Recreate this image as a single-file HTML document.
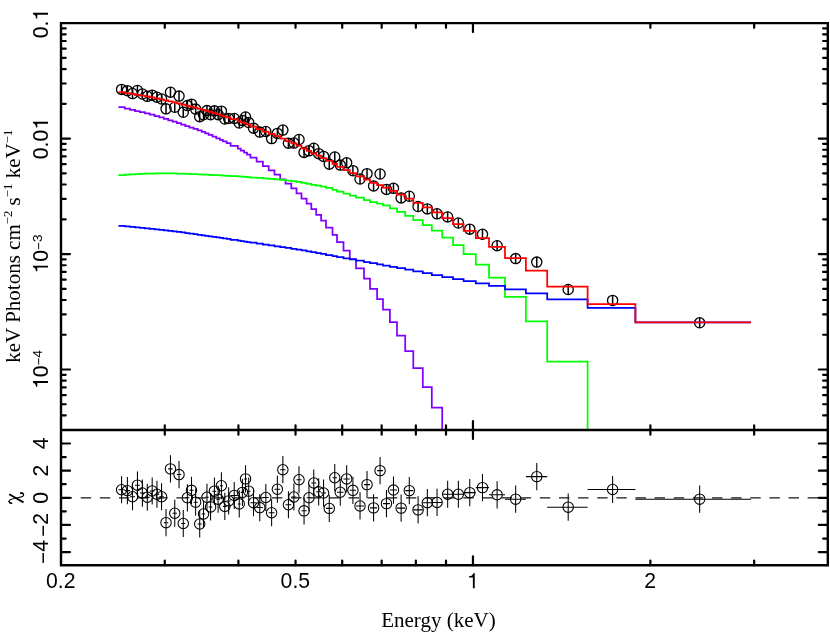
<!DOCTYPE html>
<html><head><meta charset="utf-8"><title>spectrum</title>
<style>html,body{margin:0;padding:0;background:#fff}svg{display:block;will-change:transform}text{fill:#000}</style>
</head><body>
<svg width="830" height="632" viewBox="0 0 830 632">
<rect width="830" height="632" fill="#fff"/>
<g fill="none" stroke="#000" stroke-width="1.3">
<circle cx="121.59" cy="89.4" r="5.1"/>
<circle cx="127.39" cy="90.65" r="5.1"/>
<circle cx="132.51" cy="93.56" r="5.1"/>
<circle cx="137.46" cy="90.49" r="5.1"/>
<circle cx="142.36" cy="94.05" r="5.1"/>
<circle cx="147.29" cy="96.31" r="5.1"/>
<circle cx="152.19" cy="95.15" r="5.1"/>
<circle cx="156.96" cy="97.2" r="5.1"/>
<circle cx="161.56" cy="99" r="5.1"/>
<circle cx="166.03" cy="108.86" r="5.1"/>
<circle cx="170.46" cy="92.2" r="5.1"/>
<circle cx="174.76" cy="107.23" r="5.1"/>
<circle cx="179.03" cy="96.12" r="5.1"/>
<circle cx="183.26" cy="112.28" r="5.1"/>
<circle cx="187.36" cy="105.6" r="5.1"/>
<circle cx="191.51" cy="104.17" r="5.1"/>
<circle cx="195.63" cy="109.11" r="5.1"/>
<circle cx="199.71" cy="116.63" r="5.1"/>
<circle cx="203.51" cy="114.77" r="5.1"/>
<circle cx="206.96" cy="110.59" r="5.1"/>
<circle cx="210.58" cy="114.72" r="5.1"/>
<circle cx="214.41" cy="110.83" r="5.1"/>
<circle cx="218.11" cy="114.65" r="5.1"/>
<circle cx="221.4" cy="111.16" r="5.1"/>
<circle cx="224.81" cy="119" r="5.1"/>
<circle cx="228.66" cy="118.45" r="5.1"/>
<circle cx="234.23" cy="118.46" r="5.1"/>
<circle cx="239.25" cy="122.98" r="5.1"/>
<circle cx="242.41" cy="120.45" r="5.1"/>
<circle cx="245.55" cy="116.95" r="5.1"/>
<circle cx="248.71" cy="122.53" r="5.1"/>
<circle cx="253.52" cy="128.18" r="5.1"/>
<circle cx="259.77" cy="132.08" r="5.1"/>
<circle cx="265.82" cy="131.49" r="5.1"/>
<circle cx="271.62" cy="138.57" r="5.1"/>
<circle cx="277.37" cy="133.38" r="5.1"/>
<circle cx="282.86" cy="130.06" r="5.1"/>
<circle cx="288.42" cy="143.21" r="5.1"/>
<circle cx="293.91" cy="143.06" r="5.1"/>
<circle cx="299.01" cy="139.5" r="5.1"/>
<circle cx="304.06" cy="152.41" r="5.1"/>
<circle cx="308.96" cy="150.81" r="5.1"/>
<circle cx="313.76" cy="148.22" r="5.1"/>
<circle cx="318.66" cy="153.66" r="5.1"/>
<circle cx="323.56" cy="156.43" r="5.1"/>
<circle cx="329.27" cy="164.2" r="5.1"/>
<circle cx="334.76" cy="156.97" r="5.1"/>
<circle cx="340.27" cy="165.1" r="5.1"/>
<circle cx="346.67" cy="162.78" r="5.1"/>
<circle cx="352.92" cy="170.68" r="5.1"/>
<circle cx="360.03" cy="179" r="5.1"/>
<circle cx="367.02" cy="173.63" r="5.1"/>
<circle cx="373.57" cy="185.93" r="5.1"/>
<circle cx="380.07" cy="174" r="5.1"/>
<circle cx="386.47" cy="189.45" r="5.1"/>
<circle cx="393.47" cy="188.31" r="5.1"/>
<circle cx="401.13" cy="197.92" r="5.1"/>
<circle cx="409.28" cy="196.25" r="5.1"/>
<circle cx="418.09" cy="206.55" r="5.1"/>
<circle cx="427.34" cy="208.91" r="5.1"/>
<circle cx="437.05" cy="213.82" r="5.1"/>
<circle cx="447.66" cy="216.97" r="5.1"/>
<circle cx="458.35" cy="222.99" r="5.1"/>
<circle cx="469.77" cy="229.16" r="5.1"/>
<circle cx="482.49" cy="234.3" r="5.1"/>
<circle cx="497.12" cy="245.7" r="5.1"/>
<circle cx="515.66" cy="258.6" r="5.1"/>
<circle cx="536.77" cy="262.1" r="5.1"/>
<circle cx="568.2" cy="289.5" r="5.1"/>
<circle cx="612.61" cy="300.4" r="5.1"/>
<circle cx="699.67" cy="322.8" r="5.1"/>
</g>
<path stroke="#000" stroke-width="1.5" fill="none" d="M121.59 84.3V94.5 M127.39 85.55V95.75 M132.51 88.46V98.66 M137.46 85.39V95.59 M142.36 88.95V99.15 M147.29 91.21V101.41 M152.19 90.05V100.25 M156.96 92.1V102.3 M161.56 93.9V104.1 M166.03 103.76V113.96 M170.46 87.1V97.3 M174.76 102.13V112.33 M179.03 91.02V101.22 M183.26 107.18V117.38 M187.36 100.5V110.7 M191.51 99.07V109.27 M195.63 104.01V114.21 M199.71 111.53V121.73 M203.51 109.67V119.87 M206.96 105.49V115.69 M210.58 109.62V119.82 M214.41 105.73V115.93 M218.11 109.55V119.75 M221.4 106.06V116.26 M224.81 113.9V124.1 M228.66 113.35V123.55 M234.23 113.36V123.56 M239.25 117.88V128.08 M242.41 115.35V125.55 M245.55 111.85V122.05 M248.71 117.43V127.63 M253.52 123.08V133.28 M259.77 126.98V137.18 M265.82 126.39V136.59 M271.62 133.47V143.67 M277.37 128.28V138.48 M282.86 124.96V135.16 M288.42 138.11V148.31 M293.91 137.96V148.16 M299.01 134.4V144.6 M304.06 147.31V157.51 M308.96 145.71V155.91 M313.76 143.12V153.32 M318.66 148.56V158.76 M323.56 151.33V161.53 M329.27 159.1V169.3 M334.76 151.87V162.07 M340.27 160V170.2 M346.67 157.68V167.88 M352.92 165.58V175.78 M360.03 173.9V184.1 M367.02 168.53V178.73 M373.57 180.83V191.03 M380.07 168.9V179.1 M386.47 184.35V194.55 M393.47 183.21V193.41 M401.13 192.82V203.02 M409.28 191.15V201.35 M418.09 201.45V211.65 M427.34 203.81V214.01 M437.05 208.72V218.92 M447.66 211.87V222.07 M458.35 217.89V228.09 M469.77 224.06V234.26 M482.49 229.2V239.4 M497.12 240.6V250.8 M515.66 253.5V263.7 M536.77 257V267.2 M568.2 284.4V294.6 M612.61 295.3V305.5 M699.67 317.7V327.9"/>
<g fill="none" stroke-width="1.75" stroke-linejoin="miter">
<path stroke="#8000ff" d="M118.4 107.2 L124.75 107.2 L124.75 108.58 L130 108.58 L130 109.81 L135 109.81 L135 111.02 L139.9 111.02 L139.9 112.21 L144.8 112.21 L144.8 113.43 L149.75 113.43 L149.75 114.71 L154.6 114.71 L154.6 116.06 L159.3 116.06 L159.3 117.45 L163.8 117.45 L163.8 118.87 L168.25 118.87 L168.25 120.3 L172.65 120.3 L172.65 121.72 L176.85 121.72 L176.85 123.17 L181.2 123.17 L181.2 124.64 L185.3 124.64 L185.3 126.07 L189.4 126.07 L189.4 127.52 L193.6 127.52 L193.6 128.99 L197.65 128.99 L197.65 130.46 L201.75 130.46 L201.75 131.88 L205.25 131.88 L205.25 133.3 L208.65 133.3 L208.65 134.88 L212.5 134.88 L212.5 136.63 L216.3 136.63 L216.3 138.35 L219.9 138.35 L219.9 139.89 L222.9 139.89 L222.9 141.45 L226.7 141.45 L226.7 143.16 L230.6 143.16 L230.6 145.81 L237.8 145.81 L237.8 148.62 L240.7 148.62 L240.7 150.53 L244.1 150.53 L244.1 152.52 L247 152.52 L247 154.54 L250.4 154.54 L250.4 157.61 L256.6 157.61 L256.6 161.61 L262.9 161.61 L262.9 166.11 L268.7 166.11 L268.7 170.31 L274.5 170.31 L274.5 174.51 L280.2 174.51 L280.2 179.31 L285.5 179.31 L285.5 183.71 L291.3 183.71 L291.3 188.31 L296.5 188.31 L296.5 193.31 L301.5 193.31 L301.5 198.71 L306.6 198.71 L306.6 203.71 L311.3 203.71 L311.3 209.21 L316.2 209.21 L316.2 214.81 L321.1 214.81 L321.1 220.61 L326 220.61 L326 227.73 L332.5 227.73 L332.5 234.91 L337 234.91 L337 242.03 L343.5 242.03 L343.5 250.73 L349.8 250.73 L349.8 259.02 L356 259.02 L356 268.34 L364 268.34 L364 278.63 L370 278.63 L370 288.94 L377.1 288.94 L377.1 299.23 L383 299.23 L383 309.54 L389.9 309.54 L389.9 322.04 L397 322.04 L397 335.66 L405.2 335.66 L405.2 351.06 L413.3 351.06 L413.3 368.19 L422.8 368.19 L422.8 387.18 L431.8 387.18 L431.8 407.63 L442.2 407.63 L442.2 430"/>
<path stroke="#00ff00" d="M118.4 175.06 L124.75 175.06 L124.75 174.66 L130 174.66 L130 174.35 L135 174.35 L135 174.11 L139.9 174.11 L139.9 173.91 L144.8 173.91 L144.8 173.72 L149.75 173.72 L149.75 173.55 L154.6 173.55 L154.6 173.41 L159.3 173.41 L159.3 173.32 L163.8 173.32 L163.8 173.3 L168.25 173.3 L168.25 173.34 L172.65 173.34 L172.65 173.42 L176.85 173.42 L176.85 173.54 L181.2 173.54 L181.2 173.69 L185.3 173.69 L185.3 173.86 L189.4 173.86 L189.4 174.04 L193.6 174.04 L193.6 174.23 L197.65 174.23 L197.65 174.42 L201.75 174.42 L201.75 174.58 L205.25 174.58 L205.25 174.72 L208.65 174.72 L208.65 174.87 L212.5 174.87 L212.5 175.03 L216.3 175.03 L216.3 175.2 L219.9 175.2 L219.9 175.37 L222.9 175.37 L222.9 175.56 L226.7 175.56 L226.7 175.79 L230.6 175.79 L230.6 176.15 L237.8 176.15 L237.8 176.49 L240.7 176.49 L240.7 176.71 L244.1 176.71 L244.1 176.93 L247 176.93 L247 177.16 L250.4 177.16 L250.4 177.52 L256.6 177.52 L256.6 177.99 L262.9 177.99 L262.9 178.46 L268.7 178.46 L268.7 178.94 L274.5 178.94 L274.5 179.45 L280.2 179.45 L280.2 179.98 L285.5 179.98 L285.5 180.54 L291.3 180.54 L291.3 181.16 L296.5 181.16 L296.5 181.85 L301.5 181.85 L301.5 182.78 L306.6 182.78 L306.6 183.88 L311.3 183.88 L311.3 184.82 L316.2 184.82 L316.2 185.68 L321.1 185.68 L321.1 186.59 L326 186.59 L326 187.89 L332.5 187.89 L332.5 189.79 L337 189.79 L337 191.69 L343.5 191.69 L343.5 193.52 L349.8 193.52 L349.8 195.51 L356 195.51 L356 197.71 L364 197.71 L364 200.01 L370 200.01 L370 202.22 L377.1 202.22 L377.1 203.62 L383 203.62 L383 205.42 L389.9 205.42 L389.9 208.29 L397 208.29 L397 211.92 L405.2 211.92 L405.2 215.84 L413.3 215.84 L413.3 220.05 L422.8 220.05 L422.8 225.02 L431.8 225.02 L431.8 230.73 L442.2 230.73 L442.2 237.54 L453 237.54 L453 245.14 L463.6 245.14 L463.6 254.16 L475.8 254.16 L475.8 264.57 L489 264.57 L489 277.62 L505 277.62 L505 296.88 L525.9 296.88 L525.9 321.43 L547.2 321.43 L547.2 361.74 L587.6 361.74 L587.6 430"/>
<path stroke="#0000ff" d="M118.4 225.95 L124.75 225.95 L124.75 226.43 L130 226.43 L130 226.87 L135 226.87 L135 227.31 L139.9 227.31 L139.9 227.78 L144.8 227.78 L144.8 228.26 L149.75 228.26 L149.75 228.76 L154.6 228.76 L154.6 229.27 L159.3 229.27 L159.3 229.77 L163.8 229.77 L163.8 230.29 L168.25 230.29 L168.25 230.83 L172.65 230.83 L172.65 231.37 L176.85 231.37 L176.85 231.93 L181.2 231.93 L181.2 232.49 L185.3 232.49 L185.3 233.05 L189.4 233.05 L189.4 233.62 L193.6 233.62 L193.6 234.19 L197.65 234.19 L197.65 234.76 L201.75 234.76 L201.75 235.3 L205.25 235.3 L205.25 235.78 L208.65 235.78 L208.65 236.29 L212.5 236.29 L212.5 236.84 L216.3 236.84 L216.3 237.38 L219.9 237.38 L219.9 237.87 L222.9 237.87 L222.9 238.37 L226.7 238.37 L226.7 238.95 L230.6 238.95 L230.6 239.8 L237.8 239.8 L237.8 240.57 L240.7 240.57 L240.7 241.05 L244.1 241.05 L244.1 241.53 L247 241.53 L247 242.01 L250.4 242.01 L250.4 242.74 L256.6 242.74 L256.6 243.67 L262.9 243.67 L262.9 244.57 L268.7 244.57 L268.7 245.42 L274.5 245.42 L274.5 246.28 L280.2 246.28 L280.2 247.1 L285.5 247.1 L285.5 247.95 L291.3 247.95 L291.3 248.81 L296.5 248.81 L296.5 249.64 L301.5 249.64 L301.5 250.48 L306.6 250.48 L306.6 251.33 L311.3 251.33 L311.3 252.18 L316.2 252.18 L316.2 253.06 L321.1 253.06 L321.1 253.96 L326 253.96 L326 255.03 L332.5 255.03 L332.5 256.06 L337 256.06 L337 257.09 L343.5 257.09 L343.5 258.29 L349.8 258.29 L349.8 259.45 L356 259.45 L356 260.74 L364 260.74 L364 262.01 L370 262.01 L370 263.19 L377.1 263.19 L377.1 264.36 L383 264.36 L383 265.52 L389.9 265.52 L389.9 266.8 L397 266.8 L397 268.2 L405.2 268.2 L405.2 269.71 L413.3 269.71 L413.3 271.37 L422.8 271.37 L422.8 273.14 L431.8 273.14 L431.8 275 L442.2 275 L442.2 277.02 L453 277.02 L453 279.01 L463.6 279.01 L463.6 281.06 L475.8 281.06 L475.8 283.3 L489 283.3 L489 285.92 L505 285.92 L505 289.36 L525.9 289.36 L525.9 293.35 L547.2 293.35 L547.2 299.35 L587.6 299.35 L587.6 307.9 L635.4 307.9 L635.4 322.41 L751 322.41"/>
<path stroke="#ff0000" d="M118.4 92.07 L124.75 92.07 L124.75 93.04 L130 93.04 L130 93.92 L135 93.92 L135 94.77 L139.9 94.77 L139.9 95.62 L144.8 95.62 L144.8 96.49 L149.75 96.49 L149.75 97.4 L154.6 97.4 L154.6 98.36 L159.3 98.36 L159.3 99.35 L163.8 99.35 L163.8 100.37 L168.25 100.37 L168.25 101.4 L172.65 101.4 L172.65 102.43 L176.85 102.43 L176.85 103.49 L181.2 103.49 L181.2 104.56 L185.3 104.56 L185.3 105.6 L189.4 105.6 L189.4 106.66 L193.6 106.66 L193.6 107.72 L197.65 107.72 L197.65 108.77 L201.75 108.77 L201.75 109.78 L205.25 109.78 L205.25 110.76 L208.65 110.76 L208.65 111.85 L212.5 111.85 L212.5 113.04 L216.3 113.04 L216.3 114.21 L219.9 114.21 L219.9 115.25 L222.9 115.25 L222.9 116.3 L226.7 116.3 L226.7 117.45 L230.6 117.45 L230.6 119.21 L237.8 119.21 L237.8 121.03 L240.7 121.03 L240.7 122.25 L244.1 122.25 L244.1 123.49 L247 123.49 L247 124.74 L250.4 124.74 L250.4 126.61 L256.6 126.61 L256.6 129 L262.9 129 L262.9 131.58 L268.7 131.58 L268.7 133.93 L274.5 133.93 L274.5 136.24 L280.2 136.24 L280.2 138.74 L285.5 138.74 L285.5 141.01 L291.3 141.01 L291.3 143.32 L296.5 143.32 L296.5 145.74 L301.5 145.74 L301.5 148.35 L306.6 148.35 L306.6 150.81 L311.3 150.81 L311.3 153.27 L316.2 153.27 L316.2 155.64 L321.1 155.64 L321.1 158 L326 158 L326 160.87 L332.5 160.87 L332.5 163.97 L337 163.97 L337 166.95 L343.5 166.95 L343.5 170.13 L349.8 170.13 L349.8 173.17 L356 173.17 L356 176.42 L364 176.42 L364 179.71 L370 179.71 L370 182.77 L377.1 182.77 L377.1 185.11 L383 185.11 L383 187.59 L389.9 187.59 L389.9 190.89 L397 190.89 L397 194.67 L405.2 194.67 L405.2 198.64 L413.3 198.64 L413.3 202.77 L422.8 202.77 L422.8 207.35 L431.8 207.35 L431.8 212.34 L442.2 212.34 L442.2 218.13 L453 218.13 L453 224.16 L463.6 224.16 L463.6 230.87 L475.8 230.87 L475.8 238.2 L489 238.2 L489 246.79 L505 246.79 L505 258.2 L525.9 258.2 L525.9 270.68 L547.2 270.68 L547.2 286.65 L587.6 286.65 L587.6 304.13 L635.4 304.13 L635.4 322.38 L751 322.38"/>
</g>
<path stroke="#161616" stroke-width="1.3" fill="none" stroke-dasharray="10.4 8.73" stroke-dashoffset="-0.6" d="M61 497.8H827.8"/>
<g fill="none" stroke="#000" stroke-width="1.05">
<circle cx="121.59" cy="489.79" r="5.2"/>
<circle cx="127.39" cy="490.6" r="5.2"/>
<circle cx="132.51" cy="496.71" r="5.2"/>
<circle cx="137.46" cy="485.17" r="5.2"/>
<circle cx="142.36" cy="493.05" r="5.2"/>
<circle cx="147.29" cy="497.26" r="5.2"/>
<circle cx="152.19" cy="491.01" r="5.2"/>
<circle cx="156.96" cy="494.27" r="5.2"/>
<circle cx="161.56" cy="496.71" r="5.2"/>
<circle cx="166.03" cy="522.65" r="5.2"/>
<circle cx="170.46" cy="468.87" r="5.2"/>
<circle cx="174.76" cy="513.28" r="5.2"/>
<circle cx="179.03" cy="474.58" r="5.2"/>
<circle cx="183.26" cy="523.47" r="5.2"/>
<circle cx="187.36" cy="497.8" r="5.2"/>
<circle cx="191.51" cy="490.33" r="5.2"/>
<circle cx="195.63" cy="502.15" r="5.2"/>
<circle cx="199.71" cy="524.01" r="5.2"/>
<circle cx="203.51" cy="513.96" r="5.2"/>
<circle cx="206.96" cy="497.26" r="5.2"/>
<circle cx="210.58" cy="506.9" r="5.2"/>
<circle cx="214.41" cy="491.15" r="5.2"/>
<circle cx="218.11" cy="499.16" r="5.2"/>
<circle cx="221.4" cy="485.71" r="5.2"/>
<circle cx="224.81" cy="506.36" r="5.2"/>
<circle cx="228.66" cy="500.92" r="5.2"/>
<circle cx="234.23" cy="495.49" r="5.2"/>
<circle cx="239.25" cy="503.91" r="5.2"/>
<circle cx="242.41" cy="492.37" r="5.2"/>
<circle cx="245.55" cy="478.92" r="5.2"/>
<circle cx="248.71" cy="491.15" r="5.2"/>
<circle cx="253.52" cy="502.69" r="5.2"/>
<circle cx="259.77" cy="507.58" r="5.2"/>
<circle cx="265.82" cy="497.53" r="5.2"/>
<circle cx="271.62" cy="512.74" r="5.2"/>
<circle cx="277.37" cy="489.24" r="5.2"/>
<circle cx="282.86" cy="469.69" r="5.2"/>
<circle cx="288.42" cy="504.73" r="5.2"/>
<circle cx="293.91" cy="496.99" r="5.2"/>
<circle cx="299.01" cy="479.74" r="5.2"/>
<circle cx="304.06" cy="510.84" r="5.2"/>
<circle cx="308.96" cy="497.8" r="5.2"/>
<circle cx="313.76" cy="483" r="5.2"/>
<circle cx="318.66" cy="491.82" r="5.2"/>
<circle cx="323.56" cy="493.05" r="5.2"/>
<circle cx="329.27" cy="508.39" r="5.2"/>
<circle cx="334.76" cy="477.7" r="5.2"/>
<circle cx="340.27" cy="492.23" r="5.2"/>
<circle cx="346.67" cy="478.92" r="5.2"/>
<circle cx="352.92" cy="490.33" r="5.2"/>
<circle cx="360.03" cy="505.95" r="5.2"/>
<circle cx="367.02" cy="484.63" r="5.2"/>
<circle cx="373.57" cy="507.85" r="5.2"/>
<circle cx="380.07" cy="470.64" r="5.2"/>
<circle cx="386.47" cy="503.64" r="5.2"/>
<circle cx="393.47" cy="490.06" r="5.2"/>
<circle cx="401.13" cy="508.12" r="5.2"/>
<circle cx="409.28" cy="490.6" r="5.2"/>
<circle cx="418.09" cy="509.89" r="5.2"/>
<circle cx="427.34" cy="502.69" r="5.2"/>
<circle cx="437.05" cy="502.42" r="5.2"/>
<circle cx="447.66" cy="494.27" r="5.2"/>
<circle cx="458.35" cy="494.27" r="5.2"/>
<circle cx="469.77" cy="492.64" r="5.2"/>
<circle cx="482.49" cy="487.62" r="5.2"/>
<circle cx="497.12" cy="494.81" r="5.2"/>
<circle cx="515.66" cy="499.16" r="5.2"/>
<circle cx="536.77" cy="476.62" r="5.2"/>
<circle cx="568.2" cy="507.17" r="5.2"/>
<circle cx="612.61" cy="489.52" r="5.2"/>
<circle cx="699.67" cy="499.16" r="5.2"/>
<path d="M121.59 476.21V503.37M118.4 489.79H124.75M127.39 477.02V504.18M124.75 490.6H130M132.51 483.13V510.29M130 496.71H135M137.46 471.59V498.75M135 485.17H139.9M142.36 479.47V506.63M139.9 493.05H144.8M147.29 483.68V510.84M144.8 497.26H149.75M152.19 477.43V504.59M149.75 491.01H154.6M156.96 480.69V507.85M154.6 494.27H159.3M161.56 483.13V510.29M159.3 496.71H163.8M166.03 509.07V536.23M163.8 522.65H168.25M170.46 455.29V482.45M168.25 468.87H172.65M174.76 499.7V526.86M172.65 513.28H176.85M179.03 461V488.16M176.85 474.58H181.2M183.26 509.89V537.05M181.2 523.47H185.3M187.36 484.22V511.38M185.3 497.8H189.4M191.51 476.75V503.91M189.4 490.33H193.6M195.63 488.57V515.73M193.6 502.15H197.65M199.71 510.43V537.59M197.65 524.01H201.75M203.51 500.38V527.54M201.75 513.96H205.25M206.96 483.68V510.84M205.25 497.26H208.65M210.58 493.32V520.48M208.65 506.9H212.5M214.41 477.57V504.73M212.5 491.15H216.3M218.11 485.58V512.74M216.3 499.16H219.9M221.4 472.13V499.29M219.9 485.71H222.9M224.81 492.78V519.94M222.9 506.36H226.7M228.66 487.34V514.5M226.7 500.92H230.6M234.23 481.91V509.07M230.6 495.49H237.8M239.25 490.33V517.49M237.8 503.91H240.7M242.41 478.79V505.95M240.7 492.37H244.1M245.55 465.34V492.5M244.1 478.92H247M248.71 477.57V504.73M247 491.15H250.4M253.52 489.11V516.27M250.4 502.69H256.6M259.77 494V521.16M256.6 507.58H262.9M265.82 483.95V511.11M262.9 497.53H268.7M271.62 499.16V526.32M268.7 512.74H274.5M277.37 475.66V502.82M274.5 489.24H280.2M282.86 456.11V483.27M280.2 469.69H285.5M288.42 491.15V518.31M285.5 504.73H291.3M293.91 483.41V510.57M291.3 496.99H296.5M299.01 466.16V493.32M296.5 479.74H301.5M304.06 497.26V524.42M301.5 510.84H306.6M308.96 484.22V511.38M306.6 497.8H311.3M313.76 469.42V496.58M311.3 483H316.2M318.66 478.24V505.4M316.2 491.82H321.1M323.56 479.47V506.63M321.1 493.05H326M329.27 494.81V521.97M326 508.39H332.5M334.76 464.12V491.28M332.5 477.7H337M340.27 478.65V505.81M337 492.23H343.5M346.67 465.34V492.5M343.5 478.92H349.8M352.92 476.75V503.91M349.8 490.33H356M360.03 492.37V519.53M356 505.95H364M367.02 471.05V498.21M364 484.63H370M373.57 494.27V521.43M370 507.85H377.1M380.07 457.06V484.22M377.1 470.64H383M386.47 490.06V517.22M383 503.64H389.9M393.47 476.48V503.64M389.9 490.06H397M401.13 494.54V521.7M397 508.12H405.2M409.28 477.02V504.18M405.2 490.6H413.3M418.09 496.31V523.47M413.3 509.89H422.8M427.34 489.11V516.27M422.8 502.69H431.8M437.05 488.84V516M431.8 502.42H442.2M447.66 480.69V507.85M442.2 494.27H453M458.35 480.69V507.85M453 494.27H463.6M469.77 479.06V506.22M463.6 492.64H475.8M482.49 474.04V501.19M475.8 487.62H489M497.12 481.23V508.39M489 494.81H505M515.66 485.58V512.74M505 499.16H525.9M536.77 463.04V490.2M525.9 476.62H547.2M568.2 493.59V520.75M547.2 507.17H587.6M612.61 475.94V503.1M587.6 489.52H635.4M699.67 485.58V512.74M635.4 499.16H751"/>
</g>
<path stroke="#000" stroke-width="2.2" stroke-linecap="round" fill="none" d="M164.78 23.1v4.7M164.78 425.3V434.7M164.78 565.3v-4.7M238.42 23.1v4.7M238.42 425.3V434.7M238.42 565.3v-4.7M295.54 23.1v4.7M295.54 425.3V434.7M295.54 565.3v-4.7M342.21 23.1v4.7M342.21 425.3V434.7M342.21 565.3v-4.7M381.66 23.1v4.7M381.66 425.3V434.7M381.66 565.3v-4.7M415.84 23.1v4.7M415.84 425.3V434.7M415.84 565.3v-4.7M445.99 23.1v4.7M445.99 425.3V434.7M445.99 565.3v-4.7M472.96 23.1v9M472.96 421V439M472.96 565.3v-9M650.38 23.1v4.7M650.38 425.3V434.7M650.38 565.3v-4.7M754.16 23.1v4.7M754.16 425.3V434.7M754.16 565.3v-4.7M61 138.57h9M827.8 138.57h-9M61 103.81h4.7M827.8 103.81h-4.7M61 83.48h4.7M827.8 83.48h-4.7M61 69.05h4.7M827.8 69.05h-4.7M61 57.86h4.7M827.8 57.86h-4.7M61 48.72h4.7M827.8 48.72h-4.7M61 40.99h4.7M827.8 40.99h-4.7M61 34.29h4.7M827.8 34.29h-4.7M61 28.38h4.7M827.8 28.38h-4.7M61 254.04h9M827.8 254.04h-9M61 219.28h4.7M827.8 219.28h-4.7M61 198.95h4.7M827.8 198.95h-4.7M61 184.52h4.7M827.8 184.52h-4.7M61 173.33h4.7M827.8 173.33h-4.7M61 164.19h4.7M827.8 164.19h-4.7M61 156.46h4.7M827.8 156.46h-4.7M61 149.76h4.7M827.8 149.76h-4.7M61 143.85h4.7M827.8 143.85h-4.7M61 369.51h9M827.8 369.51h-9M61 334.75h4.7M827.8 334.75h-4.7M61 314.42h4.7M827.8 314.42h-4.7M61 299.99h4.7M827.8 299.99h-4.7M61 288.8h4.7M827.8 288.8h-4.7M61 279.66h4.7M827.8 279.66h-4.7M61 271.93h4.7M827.8 271.93h-4.7M61 265.23h4.7M827.8 265.23h-4.7M61 259.32h4.7M827.8 259.32h-4.7M61 415.46h4.7M827.8 415.46h-4.7M61 404.27h4.7M827.8 404.27h-4.7M61 395.13h4.7M827.8 395.13h-4.7M61 387.4h4.7M827.8 387.4h-4.7M61 380.7h4.7M827.8 380.7h-4.7M61 374.79h4.7M827.8 374.79h-4.7M61 552.12h9M827.8 552.12h-9M61 538.54h4.7M827.8 538.54h-4.7M61 524.96h9M827.8 524.96h-9M61 511.38h4.7M827.8 511.38h-4.7M61 497.8h9M827.8 497.8h-9M61 484.22h4.7M827.8 484.22h-4.7M61 470.64h9M827.8 470.64h-9M61 457.06h4.7M827.8 457.06h-4.7M61 443.48h9M827.8 443.48h-9"/>
<path stroke="#000" stroke-width="2.4" fill="none" stroke-linejoin="miter" d="M61 23.1H827.8V565.3H61ZM61 430H827.8"/>
<g transform="translate(60.8 588.3)" fill="#000"><text x="-14.73" y="0" style="font-family:'Liberation Sans',sans-serif;font-size:21.2px">0</text><text x="-2.95" y="0" style="font-family:'Liberation Sans',sans-serif;font-size:21.2px">.</text><text x="2.95" y="0" style="font-family:'Liberation Sans',sans-serif;font-size:21.2px">2</text></g>
<g transform="translate(295.34 588.3)" fill="#000"><text x="-14.73" y="0" style="font-family:'Liberation Sans',sans-serif;font-size:21.2px">0</text><text x="-2.95" y="0" style="font-family:'Liberation Sans',sans-serif;font-size:21.2px">.</text><text x="2.95" y="0" style="font-family:'Liberation Sans',sans-serif;font-size:21.2px">5</text></g>
<g transform="translate(472.76 588.3)" fill="#000"><path transform="translate(-5.89 0) scale(21.2 -21.2)" d="M.371 0H.283V.505H.102V.568C.231 .571 .275 .613 .3 .709H.371Z"/></g>
<g transform="translate(650.18 588.3)" fill="#000"><text x="-5.89" y="0" style="font-family:'Liberation Sans',sans-serif;font-size:21.2px">2</text></g>
<g transform="translate(48 23.6) rotate(-90)" fill="#000"><text x="-14.73" y="0" style="font-family:'Liberation Sans',sans-serif;font-size:21.2px">0</text><text x="-2.95" y="0" style="font-family:'Liberation Sans',sans-serif;font-size:21.2px">.</text><path transform="translate(2.95 0) scale(21.2 -21.2)" d="M.371 0H.283V.505H.102V.568C.231 .571 .275 .613 .3 .709H.371Z"/></g>
<g transform="translate(48 138.57) rotate(-90)" fill="#000"><text x="-20.63" y="0" style="font-family:'Liberation Sans',sans-serif;font-size:21.2px">0</text><text x="-8.84" y="0" style="font-family:'Liberation Sans',sans-serif;font-size:21.2px">.</text><text x="-2.95" y="0" style="font-family:'Liberation Sans',sans-serif;font-size:21.2px">0</text><path transform="translate(8.84 0) scale(21.2 -21.2)" d="M.371 0H.283V.505H.102V.568C.231 .571 .275 .613 .3 .709H.371Z"/></g>
<g transform="translate(48 254.04) rotate(-90)" fill="#000"><path transform="translate(-19.48 0) scale(21.2 -21.2)" d="M.371 0H.283V.505H.102V.568C.231 .571 .275 .613 .3 .709H.371Z"/><text x="-7.69" y="0" style="font-family:'Liberation Sans',sans-serif;font-size:21.2px">0</text><rect x="4.9" y="-9.82" width="6.34" height="0.95"/><text x="11.98" y="-6.3" style="font-family:'Liberation Sans',sans-serif;font-size:13.5px">3</text></g>
<g transform="translate(48 369.51) rotate(-90)" fill="#000"><path transform="translate(-19.48 0) scale(21.2 -21.2)" d="M.371 0H.283V.505H.102V.568C.231 .571 .275 .613 .3 .709H.371Z"/><text x="-7.69" y="0" style="font-family:'Liberation Sans',sans-serif;font-size:21.2px">0</text><rect x="4.9" y="-9.82" width="6.34" height="0.95"/><text x="11.98" y="-6.3" style="font-family:'Liberation Sans',sans-serif;font-size:13.5px">4</text></g>
<g transform="translate(48 443.48) rotate(-90)" fill="#000"><text x="-5.89" y="0" style="font-family:'Liberation Sans',sans-serif;font-size:21.2px">4</text></g>
<g transform="translate(48 470.64) rotate(-90)" fill="#000"><text x="-5.89" y="0" style="font-family:'Liberation Sans',sans-serif;font-size:21.2px">2</text></g>
<g transform="translate(48 497.8) rotate(-90)" fill="#000"><text x="-5.89" y="0" style="font-family:'Liberation Sans',sans-serif;font-size:21.2px">0</text></g>
<g transform="translate(48 524.96) rotate(-90)" fill="#000"><rect x="-10.81" y="-5.53" width="9.96" height="1.48"/><text x="0.3" y="0" style="font-family:'Liberation Sans',sans-serif;font-size:21.2px">2</text></g>
<g transform="translate(48 552.12) rotate(-90)" fill="#000"><rect x="-10.81" y="-5.53" width="9.96" height="1.48"/><text x="0.3" y="0" style="font-family:'Liberation Sans',sans-serif;font-size:21.2px">4</text></g>
<text x="438.4" y="626.5" text-anchor="middle" style="font-family:'Liberation Serif',serif;font-size:21px">Energy (keV)</text>
<text transform="translate(20.2 246.2) rotate(-90)" text-anchor="middle" style="font-family:'Liberation Serif',serif;font-size:21px">keV Photons cm<tspan dy="-8" style="font-size:12.8px">−2</tspan><tspan dy="8"> </tspan>s<tspan dy="-8" style="font-size:12.8px">−1</tspan><tspan dy="8"> </tspan>keV<tspan dy="-8" style="font-size:12.8px">−1</tspan></text>
<g fill="none" stroke="#000" stroke-linecap="round"><path stroke-width="1.8" stroke-linecap="butt" d="M9.2 494.3L23.5 502.4"/><path stroke-width="1.15" d="M20.4 493.2C22.6 492.6 24.1 494 23.5 495.5C22.8 497.1 20 497.3 15.4 498.2C12 498.8 9.1 499.6 9 501.3C9 502.6 10.4 503.5 11.8 503.3"/><path stroke-width="1.45" d="M20.6 493.2C21.8 492.9 22.8 493.3 23.2 494M9.2 501.6C9.4 502.5 10.3 503.2 11.4 503.3"/></g>
</svg>
</body></html>
